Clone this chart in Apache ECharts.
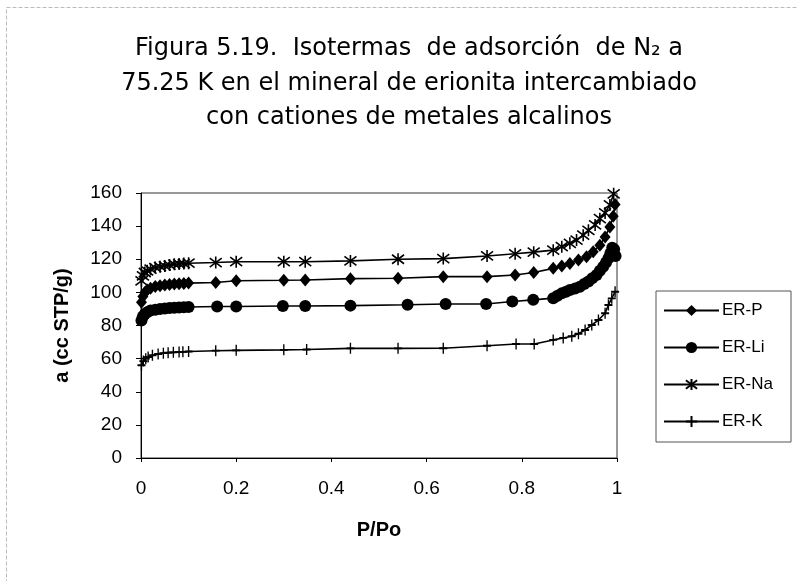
<!DOCTYPE html>
<html>
<head>
<meta charset="utf-8">
<script src="https://cdn.jsdelivr.net/npm/echarts@6/dist/echarts.min.js"></script>
<style>
html,body{margin:0;padding:0;background:#fff;}
#chart{width:798px;height:581px;}
</style>
</head>
<body>
<div id="chart"></div>
<script>
// ---- data ----
var titleLines = [
  'Figura 5.19.  Isotermas  de adsorción  de N\u2082 a',
  '75.25 K en el mineral de erionita intercambiado',
  'con cationes de metales alcalinos'
];
var xTicks = [0, 0.2, 0.4, 0.6, 0.8, 1];
var yTicks = [0, 20, 40, 60, 80, 100, 120, 140, 160];

var pP = [0.001, 0.004, 0.008, 0.013, 0.02, 0.03, 0.04, 0.05, 0.06, 0.07, 0.08, 0.09, 0.1, 0.157, 0.2, 0.3, 0.345, 0.44, 0.54, 0.635, 0.727, 0.786, 0.825, 0.866, 0.884, 0.901, 0.919, 0.936, 0.95, 0.964, 0.975, 0.985, 0.992, 0.996];
var aP = [94, 97.5, 100, 101.5, 102.5, 103.5, 104, 104.5, 104.8, 105, 105.2, 105.4, 105.6, 106, 107, 107.3, 107.5, 108.3, 108.5, 109.5, 109.5, 110.5, 112, 114.5, 116, 117.5, 119.5, 121.5, 124.5, 128.5, 133.5, 139.5, 146, 153];

var pLi = [0.001, 0.004, 0.008, 0.013, 0.02, 0.03, 0.04, 0.05, 0.06, 0.07, 0.08, 0.09, 0.1, 0.16, 0.2, 0.298, 0.345, 0.44, 0.56, 0.64, 0.725, 0.78, 0.824, 0.866, 0.875, 0.884, 0.893, 0.901, 0.912, 0.922, 0.931, 0.94, 0.948, 0.957, 0.964, 0.971, 0.977, 0.982, 0.986, 0.99, 0.994, 0.997];
var aLi = [83, 85.5, 87, 88, 89, 89.5, 90, 90.3, 90.5, 90.7, 90.8, 91, 91.2, 91.5, 91.5, 91.8, 91.8, 92, 92.5, 93, 93, 94.5, 95.5, 96.5, 98, 99.4, 100.4, 101.4, 102.4, 103.4, 105, 106.5, 108.5, 110.5, 113, 115.5, 118, 120.6, 123.5, 127, 126, 122];

var pNa = [0.001, 0.004, 0.008, 0.013, 0.02, 0.03, 0.04, 0.05, 0.06, 0.07, 0.08, 0.09, 0.1, 0.157, 0.2, 0.3, 0.345, 0.44, 0.54, 0.635, 0.727, 0.786, 0.825, 0.866, 0.884, 0.901, 0.915, 0.929, 0.94, 0.954, 0.964, 0.975, 0.985, 0.993];
var aNa = [107, 110, 112, 113, 114, 115, 115.5, 116, 116.5, 117, 117.2, 117.4, 117.6, 118, 118.5, 118.5, 118.5, 119, 120, 120.4, 122, 123.3, 124.3, 125.5, 127.6, 129.6, 131.6, 134.5, 137.5, 140.7, 144.5, 148, 152.8, 159.5];

var pK = [0.001, 0.005, 0.01, 0.015, 0.024, 0.036, 0.047, 0.057, 0.068, 0.08, 0.088, 0.1, 0.157, 0.2, 0.3, 0.348, 0.44, 0.54, 0.635, 0.727, 0.788, 0.826, 0.866, 0.887, 0.905, 0.919, 0.933, 0.947, 0.961, 0.975, 0.982, 0.989, 0.996];
var aK = [56, 58.5, 60, 61, 62, 62.8, 63.3, 63.6, 63.8, 64, 64.1, 64.3, 64.8, 65, 65.3, 65.5, 66.2, 66.2, 66.3, 67.8, 68.8, 68.8, 71.3, 72.5, 73.5, 75, 77.3, 80.3, 83.3, 87.4, 92.4, 96.4, 100.4];

var seriesNames = ['ER-P', 'ER-Li', 'ER-Na', 'ER-K'];
// -----------------------------------------------

function zip(xs, ys) { return xs.map(function (x, i) { return [x, ys[i]]; }); }

var starPath = 'path://M0,-10L0,10M-7.5,-7.5L7.5,7.5M-7.5,7.5L7.5,-7.5';
var plusPath = 'path://M-10,0L10,0M0,-10L0,10';

function mkSeries(name, data, symbol, size, strokeOnly) {
  return {
    name: name,
    type: 'line',
    data: data,
    symbol: symbol,
    symbolSize: size,
    showAllSymbol: true,
    smooth: false,
    lineStyle: { color: '#000', width: 1.6 },
    itemStyle: strokeOnly
      ? { color: 'none', borderColor: '#000', borderWidth: 1.6 }
      : { color: '#000', borderColor: '#000', borderWidth: 0 },
    emphasis: { disabled: true },
    z: 3
  };
}

var chart = echarts.init(document.getElementById('chart'), null, { renderer: 'canvas' });
var lab = { fontFamily: 'Liberation Sans, Arial, sans-serif', color: '#000' };

chart.setOption({
  animation: false,
  backgroundColor: '#fff',
  title: {
    text: titleLines.join('\n'),
    left: 409,
    top: 32,
    padding: 0,
    textAlign: 'center',
    textStyle: {
      fontFamily: 'DejaVu Sans, sans-serif',
      fontSize: 24,
      fontWeight: 'normal',
      color: '#000',
      lineHeight: 34.5
    }
  },
  graphic: [{
    type: 'rect',
    shape: { x: 6.5, y: 7.5, width: 820, height: 620 },
    style: { fill: 'none', stroke: '#bbb', lineWidth: 1, lineDash: [4, 2] },
    silent: true
  }],
  legend: {
    orient: 'vertical',
    left: 656,
    top: 291,
    padding: [11, 18, 12, 7],
    itemWidth: 55,
    itemHeight: 14,
    itemGap: 20,
    borderColor: '#555',
    borderWidth: 1,
    data: seriesNames,
    textStyle: { fontFamily: 'Liberation Sans, Arial, sans-serif', fontSize: 17, color: '#000', padding: [0, 0, 0, -2] }
  },
  grid: {
    left: 141, right: 181, top: 193, bottom: 123,
    show: true, borderColor: '#333', borderWidth: 1, backgroundColor: 'transparent'
  },
  xAxis: {
    type: 'value',
    min: xTicks[0],
    max: xTicks[xTicks.length - 1],
    interval: 0.2,
    name: 'P/Po',
    nameLocation: 'middle',
    nameGap: 62,
    nameTextStyle: { fontFamily: 'Liberation Sans, Arial, sans-serif', fontSize: 20, fontWeight: 'bold', color: '#000' },
    axisLine: { show: true, onZero: false, lineStyle: { color: '#000', width: 1 } },
    axisTick: { show: true, length: 4, lineStyle: { color: '#000' } },
    splitLine: { show: false },
    axisLabel: Object.assign({ fontSize: 19, margin: 21 }, lab)
  },
  yAxis: {
    type: 'value',
    min: yTicks[0],
    max: yTicks[yTicks.length - 1],
    interval: 20,
    name: 'a (cc STP/g)',
    nameLocation: 'middle',
    nameGap: 69,
    nameTextStyle: { fontFamily: 'Liberation Sans, Arial, sans-serif', fontSize: 20, fontWeight: 'bold', color: '#000' },
    axisLine: { show: true, lineStyle: { color: '#000', width: 1 } },
    axisTick: { show: true, length: 5, lineStyle: { color: '#000' } },
    splitLine: { show: false },
    axisLabel: Object.assign({ fontSize: 19, margin: 19 }, lab)
  },
  series: [
    mkSeries(seriesNames[0], zip(pP, aP), 'diamond', [11, 13], false),
    mkSeries(seriesNames[1], zip(pLi, aLi), 'circle', 12, false),
    mkSeries(seriesNames[2], zip(pNa, aNa), starPath, 12, true),
    mkSeries(seriesNames[3], zip(pK, aK), plusPath, [8, 11], true)
  ]
});
</script>
</body>
</html>
